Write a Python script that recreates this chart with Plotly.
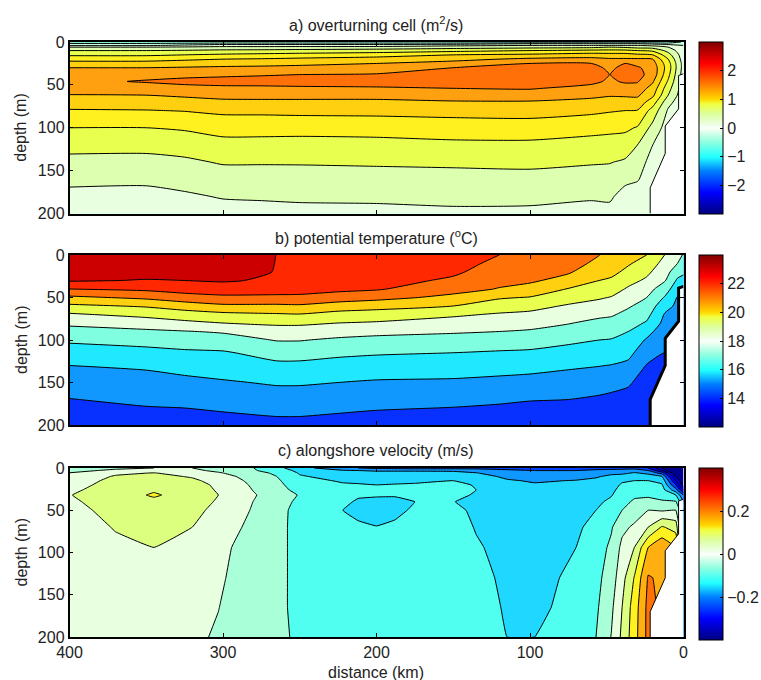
import plotly.graph_objects as go

# ---------- shared ----------
coast_km = [21.7, 21.7, 11.9, 11.9, 3.2, 3.2, 0]
coast_depth = [200, 170, 130, 98, 78, 39, 37]

# ---------- panel a: overturning cell (m2/s) ----------
a_x = [400, 350, 325, 300, 275, 250, 200, 150, 100, 60, 48, 38, 30, 20, 10, 0]
a_depth = [0, 2, 4, 6, 10, 15, 20, 25, 30, 38, 46, 54, 62, 70, 80, 100, 120, 140, 160, 180, 200]
a_cols = [
 [-.5,-.2,-.03,.25,.5,.71,.92,1.09,1.25,1.38,1.44,1.37,1.24,1.12,.98,.75,.58,.43,.31,.18,.08],
 [-.5,-.2,-.03,.25,.5,.71,.92,1.09,1.25,1.42,1.52,1.39,1.25,1.13,.99,.75,.58,.42,.3,.17,.07],
 [-.5,-.15,.05,.28,.52,.75,.96,1.12,1.27,1.44,1.56,1.43,1.29,1.15,1.01,.78,.6,.46,.35,.21,.1],
 [-.5,-.1,.12,.31,.55,.79,1,1.15,1.29,1.46,1.58,1.45,1.32,1.2,1.05,.84,.67,.52,.39,.27,.14],
 [-.5,-.1,.12,.31,.56,.82,1.02,1.17,1.3,1.48,1.59,1.45,1.33,1.2,1.05,.85,.66,.52,.39,.28,.16],
 [-.5,-.1,.12,.32,.58,.85,1.05,1.2,1.31,1.5,1.6,1.46,1.33,1.2,1.06,.85,.65,.52,.4,.29,.18],
 [-.5,-.1,.12,.33,.62,.9,1.1,1.25,1.35,1.52,1.62,1.47,1.33,1.2,1.07,.85,.67,.53,.41,.3,.18],
 [-.5,-.1,.2,.38,.68,1,1.18,1.34,1.5,1.62,1.64,1.5,1.36,1.23,1.09,.87,.7,.54,.42,.32,.2],
 [-.5,0,.25,.42,.75,1.05,1.3,1.5,1.6,1.68,1.65,1.52,1.37,1.23,1.1,.88,.7,.55,.43,.31,.2],
 [-.5,0,.25,.45,.8,1.12,1.32,1.5,1.58,1.65,1.56,1.42,1.3,1.19,1.05,.83,.66,.52,.4,.28,.16],
 [-.5,0,.25,.5,.81,1.1,1.28,1.38,1.45,1.495,1.46,1.37,1.27,1.16,1.02,.81,.65,.51,.4,.29,.17],
 [-.5,0,.25,.47,.8,1.1,1.28,1.5,1.57,1.63,1.53,1.4,1.28,1.15,1,.8,.62,.47,.31,.15,.05],
 [-.5,0,.25,.42,.75,1.05,1.28,1.43,1.53,1.58,1.52,1.4,1.29,1.15,.99,.73,.5,.37,.27,.12,.03],
 [-.5,-.05,.2,.4,.7,1,1.25,1.35,1.4,1.4,1.28,1.15,1.05,.87,.65,.42,.25,.15,.1,.05,.02],
 [-.5,-.1,.1,.25,.42,.6,.75,.85,.88,.82,.72,.6,.5,.33,.22,.12,.08,.05,.05,.05,.05],
 [-.2,-.1,0,.03,.06,.1,.12,.15,.15,.12,.1,.1,.08,.08,.05,.05,.05,.05,.05,.05,.05],
]
a_bands = ["#90ffe0", "#c8ffe0", "#e8ffe0", "#dcffb0", "#e8ff50", "#fff020", "#ffd010", "#ffa010", "#ff7008"]

# ---------- panel b: potential temperature (degC) ----------
b_x = [400, 350, 325, 300, 265, 250, 225, 200, 150, 120, 100, 75, 55, 47, 36, 24, 12, 4, 0]
b_depth = [0, 10, 20, 30, 40, 50, 60, 70, 80, 90, 100, 115, 130, 150, 170, 190, 200]
b_cols = [
 [23.6,23.45,23.3,23.1,22,20.8,19.8,18.87,18.2,17.65,17.15,16.55,16,15.5,14.97,14.5,14.2],
 [23.6,23.45,23.3,22.95,22.2,21.2,20.1,19.3,18.45,17.85,17.3,16.75,16.15,15.6,15.2,14.7,14.4],
 [23.6,23.45,23.3,23,22.4,21.6,20.45,19.55,18.77,17.95,17.45,16.85,16.35,15.75,15.25,14.75,14.5],
 [23.6,23.45,23.3,23.1,22.5,21.8,20.8,19.75,19,18.1,17.6,16.9,16.5,15.9,15.4,14.85,14.6],
 [22.99,22.98,22.97,22.85,22.4,21.8,20.8,19.9,19.15,18.6,18.05,17.35,16.8,16.1,15.55,15,14.75],
 [22.9,22.85,22.75,22.65,22.35,21.8,20.85,19.95,19.15,18.6,18.05,17.35,16.8,16.1,15.55,15,14.75],
 [22.75,22.7,22.6,22.5,22.25,21.5,20.55,19.65,19,18.4,17.85,17.2,16.65,16,15.45,14.9,14.65],
 [22.65,22.6,22.5,22.35,22.1,21.3,20.35,19.55,18.9,18.25,17.75,17.1,16.55,15.9,15.35,14.8,14.55],
 [22.4,22.3,22.15,21.85,21.35,20.75,20,19.15,18.6,18.1,17.65,17,16.5,15.85,15.25,14.7,14.4],
 [22,21.8,21.55,21.25,20.95,20.1,19.5,18.9,18.45,18,17.55,16.9,16.4,15.75,15.15,14.6,14.3],
 [21.85,21.65,21.4,21.15,20.65,19.95,19.3,18.8,18.35,17.9,17.45,16.85,16.3,15.7,15.05,14.5,14.2],
 [21.65,21.4,21.1,20.65,19.95,19.4,18.9,18.45,18.05,17.65,17.2,16.65,16.15,15.55,15,14.5,14.2],
 [21.02,20.75,20.4,20,19.55,19.1,18.65,18.2,17.75,17.35,17,16.5,16.03,15.45,14.85,14.3,14.05],
 [20.7,20.5,20.25,19.85,19.4,18.95,18.5,18.1,17.7,17.3,16.95,16.45,15.97,15.35,14.75,14.25,14.05],
 [20.25,20.1,19.75,19.3,18.88,18.5,18.1,17.75,17.4,17,16.7,16.25,15.8,15.15,14.6,14.1,14.05],
 [20,19.6,19.2,18.85,18.4,18,17.65,17.3,16.9,16.35,15.9,15.45,14.95,14.5,14.2,14.05,14.05],
 [18.97,18.65,18.4,18.05,17.45,16.9,16.35,15.9,15.7,15.4,15.2,15,14.9,14.7,14.5,14.4,14.3],
 [18.2,18,17.4,16.85,16.4,15.95,15.8,15.7,15.6,15.5,15.4,15.3,15.2,15.1,15,15,15],
 [17.95,17.6,17.15,16.7,16.2,15.9,15.9,15.9,15.9,15.9,15.9,15.9,15.9,15.9,15.9,15.9,15.9],
]
b_bands = ["#0830ff", "#1098ff", "#20e8ff", "#80ffe0", "#e8ffe0", "#e8ff50", "#ffd010", "#ff7008", "#ff2800", "#cc0000"]

# ---------- panel c: alongshore velocity (m/s) ----------
c_x = [400, 370, 345, 320, 303, 280, 260, 250, 222, 212, 200, 188, 175, 150, 135, 115, 97, 70, 57, 47, 40, 32, 23, 14, 5, 0]
c_depth = [0, 3, 6, 10, 15, 20, 26, 32, 40, 50, 70, 94, 130, 165, 200]
c_cols = [
 [-.03,-.015,.002,.01,.02,.03,.04,.048,.042,.035,.025,.02,.015,.012,.01],
 [-.01,.01,.04,.055,.065,.07,.075,.08,.072,.065,.053,.04,.03,.025,.02],
 [0,.03,.052,.065,.075,.085,.095,.105,.09,.08,.065,.05,.035,.03,.02],
 [0,.01,.03,.045,.06,.07,.075,.08,.07,.06,.05,.035,.025,.015,.01],
 [-.03,-.01,.005,.02,.03,.04,.045,.05,.045,.04,.03,.015,.008,.001,-.006],
 [-.05,-.045,-.03,-.02,-.012,-.007,-.002,.004,-.001,-.005,-.015,-.025,-.03,-.035,-.04],
 [-.1,-.085,-.07,-.06,-.055,-.05,-.043,-.035,-.04,-.045,-.045,-.045,-.045,-.045,-.042],
 [-.13,-.115,-.105,-.095,-.085,-.075,-.065,-.053,-.06,-.065,-.07,-.07,-.07,-.07,-.065],
 [-.19,-.145,-.13,-.12,-.105,-.095,-.09,-.085,-.093,-.1,-.085,-.08,-.08,-.08,-.08],
 [-.2,-.15,-.13,-.122,-.107,-.097,-.094,-.096,-.104,-.108,-.095,-.082,-.08,-.08,-.08],
 [-.21,-.155,-.135,-.125,-.11,-.1,-.097,-.098,-.105,-.113,-.099,-.085,-.08,-.08,-.08],
 [-.215,-.155,-.135,-.122,-.108,-.098,-.096,-.098,-.106,-.108,-.094,-.082,-.08,-.08,-.08],
 [-.22,-.155,-.135,-.12,-.105,-.097,-.092,-.092,-.1,-.095,-.085,-.08,-.08,-.08,-.08],
 [-.22,-.155,-.14,-.125,-.1,-.09,-.085,-.09,-.099,-.09,-.08,-.075,-.07,-.07,-.07],
 [-.22,-.165,-.148,-.13,-.115,-.103,-.1,-.104,-.11,-.108,-.103,-.095,-.085,-.08,-.075],
 [-.22,-.19,-.175,-.16,-.145,-.135,-.13,-.13,-.13,-.125,-.12,-.115,-.11,-.105,-.1],
 [-.23,-.2,-.185,-.17,-.155,-.145,-.14,-.135,-.13,-.13,-.125,-.12,-.115,-.11,-.1],
 [-.23,-.2,-.18,-.165,-.148,-.135,-.13,-.125,-.12,-.115,-.108,-.1,-.09,-.085,-.08],
 [-.22,-.19,-.175,-.155,-.14,-.13,-.125,-.12,-.11,-.1,-.085,-.075,-.065,-.058,-.05],
 [-.22,-.185,-.16,-.14,-.125,-.115,-.11,-.103,-.09,-.075,-.055,-.04,-.025,-.01,.002],
 [-.22,-.18,-.16,-.13,-.105,-.095,-.085,-.075,-.065,-.05,-.012,.012,.032,.05,.06],
 [-.22,-.17,-.145,-.125,-.1,-.09,-.075,-.058,-.043,-.025,.008,.05,.103,.125,.13],
 [-.25,-.2,-.16,-.13,-.1,-.09,-.075,-.058,-.035,0,.05,.15,.205,.215,.215],
 [-.35,-.3,-.22,-.15,-.115,-.095,-.08,-.065,-.045,-.005,.105,.19,.19,.19,.19],
 [-.5,-.45,-.4,-.35,-.3,-.25,-.18,-.1,-.045,0,.08,.15,.15,.15,.15],
 [-.6,-.55,-.5,-.45,-.4,-.38,-.3,-.2,-.15,-.1,-.1,-.1,-.1,-.1,-.1],
]
c_bands = ["#000090", "#0000d0", "#0000ff", "#0040ff", "#1098ff", "#20d8ff", "#50ffef", "#a8ffd8",
           "#e8ffe0", "#dcff80", "#fff020", "#ffb010", "#ff7008"]

# ---------- text ----------
titles = ["a) overturning cell (m<sup>2</sup>/s)", "b) potential temperature (<sup>o</sup>C)", "c) alongshore velocity (m/s)"]
bar_ticks = [[-2, -1, 0, 1, 2], [14, 16, 18, 20, 22], [-0.2, 0, 0.2]]
bar_text = [["\u22122", "\u22121", "0", "1", "2"], ["14", "16", "18", "20", "22"], ["\u22120.2", "0", "0.2"]]
bar_range = [(-3, 3), (12, 24), (-0.4, 0.4)]
levels = [(-0.25, 1.5, 0.25), (15, 23, 1), (-0.35, 0.201, 0.05)]

# ---------- style ----------
W, H = 761, 680
FONT = "Liberation Sans, Arial, sans-serif"
PX_L, PX_R = 69.5, 683.5
PANELS = [(42, 213.5), (255, 425), (468, 637)]
BAR_Y = [(42, 214), (255, 427), (468, 640)]
BAR_X, BAR_W = 699, 24
COAST_W = [1, 3, 1]
SMOOTH = [0.6, 0.6, 0.25]
bar_scale = [[0, "#00007f"], [.125, "#0000ff"], [.25, "#0080ff"], [.33, "#20ffff"], [.42, "#90ffe0"],
             [.49, "#f0fff0"], [.5, "#ffffff"], [.51, "#f0fff0"], [.58, "#dcffa0"], [.64, "#f0ff40"],
             [.667, "#ffd800"], [.75, "#ff8000"], [.875, "#ff0000"], [1, "#7f0000"]]


def stepped(cols):
    n = len(cols)
    out = []
    for i, c in enumerate(cols):
        out += [[i / n, c], [(i + 1) / n, c]]
    return out


def text(fig, s, x, y, angle=0):
    fig.add_annotation(text=s, xref="paper", yref="paper", x=x / W, y=1 - y / H, xanchor="center", yanchor="middle",
                       textangle=angle, showarrow=False, font=dict(size=16, color="#222", family=FONT))


fig = go.Figure()
data = [(a_x, a_depth, a_cols, a_bands), (b_x, b_depth, b_cols, b_bands), (c_x, c_depth, c_cols, c_bands)]
for i, (x, d, cols, bands) in enumerate(data):
    n = "" if i == 0 else str(i + 1)
    z = [list(r) for r in zip(*cols)]
    start, end, size = levels[i]
    fig.add_trace(go.Contour(x=x, y=d, z=z, xaxis="x" + n, yaxis="y" + n, autocontour=False,
                             contours=dict(start=start, end=end, size=size, coloring="fill", showlines=True),
                             line=dict(color="black", width=1, smoothing=SMOOTH[i]),
                             colorscale=stepped(bands), showscale=False, hoverinfo="skip"))
    fig.add_trace(go.Scatter(x=coast_km + [0, 21.7], y=coast_depth + [200, 200], xaxis="x" + n, yaxis="y" + n,
                             mode="none", fill="toself", fillcolor="white", hoverinfo="skip", showlegend=False))
    fig.add_trace(go.Scatter(x=coast_km, y=coast_depth, xaxis="x" + n, yaxis="y" + n, mode="lines",
                             line=dict(color="black", width=COAST_W[i]), hoverinfo="skip", showlegend=False))
    lo, hi = bar_range[i]
    top, bot = BAR_Y[i]
    fig.add_trace(go.Scatter(x=[None], y=[None], xaxis="x" + n, yaxis="y" + n, mode="markers",
                             showlegend=False, hoverinfo="skip",
                             marker=dict(color=[lo], cmin=lo, cmax=hi, colorscale=bar_scale, showscale=True,
                                         colorbar=dict(x=BAR_X / W, xanchor="left", y=1 - top / H, yanchor="top",
                                                       len=(bot - top) / H, lenmode="fraction",
                                                       thickness=BAR_W, thicknessmode="pixels", xpad=0, ypad=0,
                                                       outlinecolor="black", outlinewidth=1, borderwidth=0,
                                                       ticks="inside", ticklen=3, tickcolor="black", tickwidth=1,
                                                       tickvals=bar_ticks[i], ticktext=bar_text[i],
                                                       tickfont=dict(size=16, color="#222", family=FONT)))))
    ptop, pbot = PANELS[i]
    fig.update_layout(**{
        "xaxis" + n: dict(domain=[PX_L / W, PX_R / W], range=[400, 0], tickvals=[400, 300, 200, 100, 0],
                          showticklabels=i == 2, ticks="inside", ticklen=4, tickcolor="black", showgrid=False,
                          zeroline=False, showline=True, linecolor="black", linewidth=1.5, mirror="ticks",
                          tickfont=dict(size=16, color="#222", family=FONT), anchor="y" + n),
        "yaxis" + n: dict(domain=[1 - pbot / H, 1 - ptop / H], range=[200, 0], tickvals=[0, 50, 100, 150, 200],
                          ticks="inside", ticklen=4, tickcolor="black", showgrid=False, zeroline=False,
                          showline=True, linecolor="black", linewidth=1.5, mirror="ticks",
                          tickfont=dict(size=16, color="#222", family=FONT), anchor="x" + n),
    })
    text(fig, titles[i], 376, ptop - 18)
    text(fig, "depth (m)", 21, (ptop + pbot) / 2, -90)

text(fig, "distance (km)", 376, 672)
fig.update_layout(width=W, height=H, autosize=False, margin=dict(l=0, r=0, t=0, b=0, autoexpand=False),
                  paper_bgcolor="white", plot_bgcolor="white", showlegend=False)
fig.write_html("out.html", config={"displayModeBar": False}, post_script="document.body.style.margin='0';")
